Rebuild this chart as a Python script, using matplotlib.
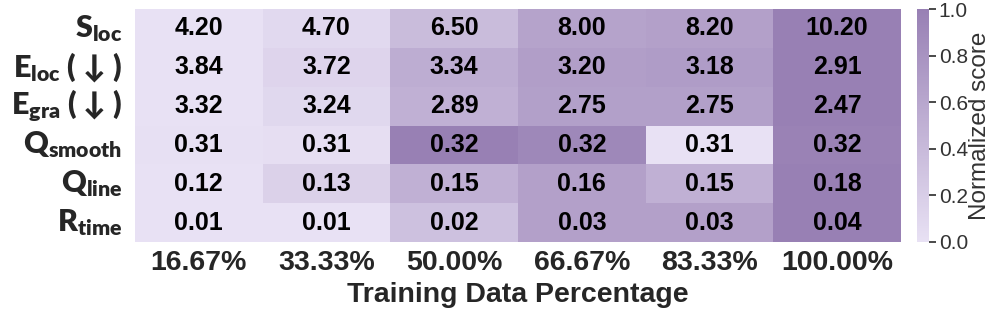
import numpy as np
import matplotlib
matplotlib.use('Agg')
import matplotlib.pyplot as plt
import seaborn as sns
from matplotlib.colors import LinearSegmentedColormap

# dados
percentuais = ['16.67%', '33.33%', '50.00%', '66.67%', '83.33%', '100.00%']
metricas = [r'$\mathbf{S_{loc}}$', r'$\mathbf{E_{loc}}$ ( ↓ )', r'$\mathbf{E_{gra}}$ ( ↓ )',
            r'$\mathbf{Q_{smooth}}$', r'$\mathbf{Q_{line}}$', r'$\mathbf{R_{time}}$']
menor_melhor = [False, True, True, False, False, False]

s_loc = [4.20, 4.70, 6.50, 8.00, 8.20, 10.20]
e_loc = [3.84, 3.72, 3.34, 3.20, 3.18, 2.91]
e_gra = [3.32, 3.24, 2.89, 2.75, 2.75, 2.47]
q_smooth = [0.3101, 0.3103, 0.3200, 0.3192, 0.3100, 0.3198]
q_line = [0.12, 0.13, 0.15, 0.16, 0.15, 0.18]
r_time = [0.01, 0.01, 0.02, 0.03, 0.03, 0.04]

valores = np.array([s_loc, e_loc, e_gra, q_smooth, q_line, r_time])

# normalizar por linha
norm = np.zeros_like(valores)
for i in range(len(valores)):
    linha = valores[i]
    n = (linha - linha.min()) / (linha.max() - linha.min())
    if menor_melhor[i]:
        n = 1 - n
    norm[i] = n

sns.set_theme(style='ticks')
plt.rcParams['font.family'] = ['Liberation Sans', 'DejaVu Sans']
plt.rcParams['mathtext.fontset'] = 'custom'
plt.rcParams['mathtext.bf'] = 'Lato:heavy'
plt.rcParams['mathtext.rm'] = 'Lato'

cmap = LinearSegmentedColormap.from_list('roxo', ['#e8e1f4', '#9880b4'])

fig = plt.figure(figsize=(9.97, 3.17), dpi=100)
ax = fig.add_axes([0.1354, 0.2366, 0.7683, 0.735])
cax = fig.add_axes([0.9198, 0.2366, 0.012, 0.735])

annot = [[f'{v:.2f}' for v in linha] for linha in valores]
sns.heatmap(norm, ax=ax, cbar_ax=cax, cmap=cmap, vmin=0, vmax=1,
            annot=np.array(annot), fmt='',
            annot_kws={'fontsize': 18, 'fontweight': 'bold', 'color': 'black'},
            xticklabels=percentuais, yticklabels=metricas)

ax.tick_params(axis='x', length=0, pad=6)
ax.tick_params(axis='y', length=0, pad=9)
ax.set_xticklabels(percentuais, fontsize=20.5, fontweight='bold', color='#262626')
ax.set_yticklabels(metricas, fontsize=22, fontweight='heavy', rotation=0,
                   family=['Lato', 'DejaVu Sans'], color='#262626')
ax.set_xlabel('Training Data Percentage', fontsize=20.5, fontweight='bold', color='#262626')

cbar = ax.collections[0].colorbar
cbar.outline.set_visible(False)
cbar.ax.tick_params(labelsize=15, length=5, pad=2, colors='#333333')
cbar.set_label('Normalized score', fontsize=17.5, color='#333333', labelpad=1)

plt.savefig('out.png', dpi=100)
